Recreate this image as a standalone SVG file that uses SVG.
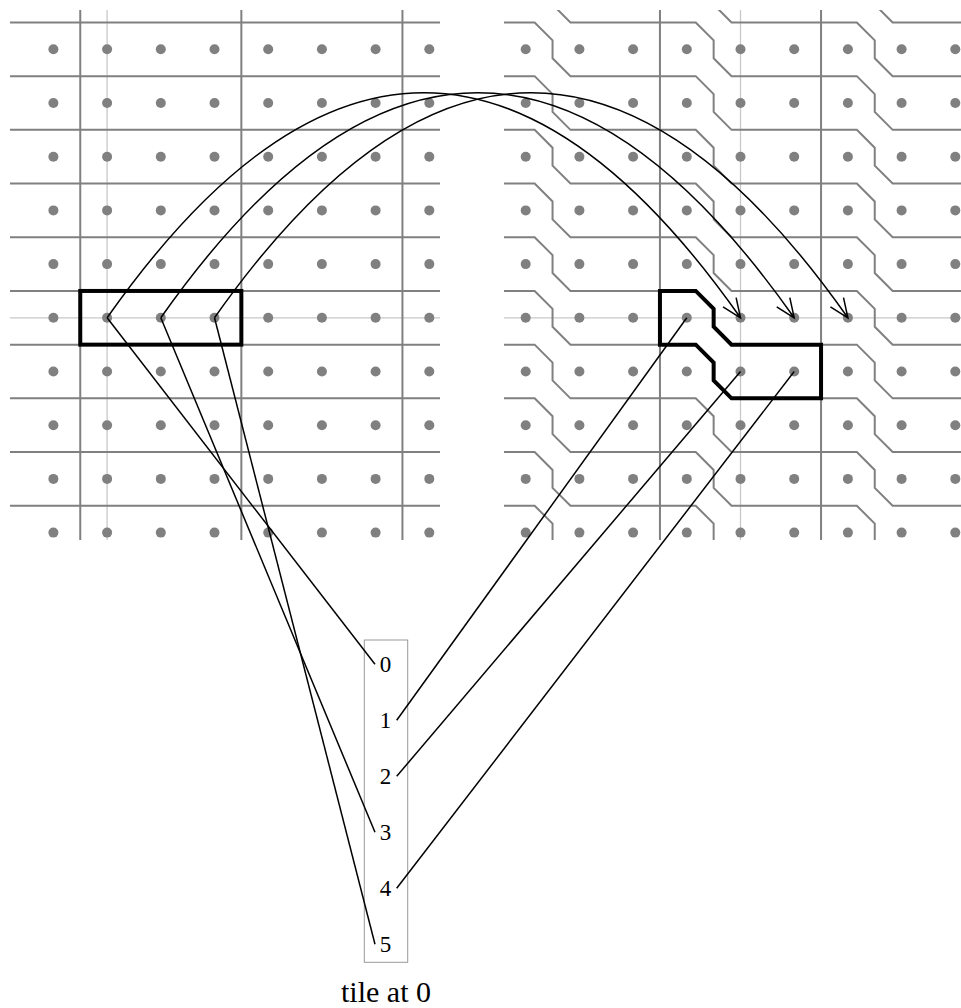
<svg xmlns="http://www.w3.org/2000/svg" xmlns:xlink="http://www.w3.org/1999/xlink" width="961" height="1008" viewBox="0 0 961 1008">
<style>
.grid{stroke:#808080;stroke-width:2;fill:none}
.light{stroke:#c8c8c8;stroke-width:1.3;fill:none}
.dot{fill:#808080}
.hl{stroke:#000;stroke-width:4;fill:none;stroke-linejoin:miter}
.con{stroke:#000;stroke-width:1.5;fill:none}
.lbl{font-family:"Liberation Serif","Times New Roman",serif;font-size:23px;fill:#000;text-anchor:middle}
.cap{font-family:"Liberation Serif","Times New Roman",serif;font-size:30px;fill:#000;text-anchor:middle}
</style>
<defs>
<clipPath id="clipL"><rect x="10" y="10" width="430" height="530"/></clipPath>
<clipPath id="clipR"><rect x="504" y="10" width="457" height="530"/></clipPath>
<marker id="ah" markerUnits="userSpaceOnUse" orient="auto" refX="0" refY="0" markerWidth="40" markerHeight="40" overflow="visible">
<path d="M-19,-8 L0,0 L-19,8" fill="none" stroke="#000" stroke-width="1.5"/>
</marker>
<g id="rowL">
<circle class="dot" cx="53.4" cy="0" r="5"/><circle class="dot" cx="107.1" cy="0" r="5"/><circle class="dot" cx="160.8" cy="0" r="5"/><circle class="dot" cx="214.5" cy="0" r="5"/><circle class="dot" cx="268.2" cy="0" r="5"/><circle class="dot" cx="321.9" cy="0" r="5"/><circle class="dot" cx="375.6" cy="0" r="5"/><circle class="dot" cx="429.3" cy="0" r="5"/>
</g>
<g id="rowR">
<circle class="dot" cx="525.7" cy="0" r="5"/><circle class="dot" cx="579.4" cy="0" r="5"/><circle class="dot" cx="633.1" cy="0" r="5"/><circle class="dot" cx="686.8" cy="0" r="5"/><circle class="dot" cx="740.5" cy="0" r="5"/><circle class="dot" cx="794.2" cy="0" r="5"/><circle class="dot" cx="847.9" cy="0" r="5"/><circle class="dot" cx="901.6" cy="0" r="5"/><circle class="dot" cx="955.3" cy="0" r="5"/>
</g>
<path id="stair" class="grid" d="M480,0 H534.65 L552.55,17.9 V35.8 L570.45,53.7 H695.75 L713.65,71.6 V89.5 L731.55,107.4 H856.85 L874.75,125.3 V143.2 L892.65,161.1 H975"/>
</defs>

<g id="left-grid">
<g clip-path="url(#clipL)">
<line class="light" x1="107.1" y1="10" x2="107.1" y2="540"/>
<line class="light" x1="10" y1="317.8" x2="440" y2="317.8"/>
<path class="grid" d="M10,22.45H440M10,76.15H440M10,129.85H440M10,183.55H440M10,237.25H440M10,290.95H440M10,344.65H440M10,398.35H440M10,452.05H440M10,505.75H440"/>
<path class="grid" d="M80.25,10V540M241.35,10V540M402.45,10V540"/>
</g>
<use href="#rowL" xlink:href="#rowL" y="49.3"/>
<use href="#rowL" xlink:href="#rowL" y="103"/>
<use href="#rowL" xlink:href="#rowL" y="156.7"/>
<use href="#rowL" xlink:href="#rowL" y="210.4"/>
<use href="#rowL" xlink:href="#rowL" y="264.1"/>
<use href="#rowL" xlink:href="#rowL" y="317.8"/>
<use href="#rowL" xlink:href="#rowL" y="371.5"/>
<use href="#rowL" xlink:href="#rowL" y="425.2"/>
<use href="#rowL" xlink:href="#rowL" y="478.9"/>
<use href="#rowL" xlink:href="#rowL" y="532.6"/>
<rect class="hl" x="80.25" y="290.95" width="161.1" height="53.7"/>
</g>

<g id="right-grid">
<g clip-path="url(#clipR)">
<line class="light" x1="740.5" y1="10" x2="740.5" y2="540"/>
<line class="light" x1="504" y1="317.8" x2="961" y2="317.8"/>
<use href="#stair" xlink:href="#stair" y="-138.65"/>
<use href="#stair" xlink:href="#stair" y="-84.95"/>
<use href="#stair" xlink:href="#stair" y="-31.25"/>
<use href="#stair" xlink:href="#stair" y="22.45"/>
<use href="#stair" xlink:href="#stair" y="76.15"/>
<use href="#stair" xlink:href="#stair" y="129.85"/>
<use href="#stair" xlink:href="#stair" y="183.55"/>
<use href="#stair" xlink:href="#stair" y="237.25"/>
<use href="#stair" xlink:href="#stair" y="290.95"/>
<use href="#stair" xlink:href="#stair" y="344.65"/>
<use href="#stair" xlink:href="#stair" y="398.35"/>
<use href="#stair" xlink:href="#stair" y="452.05"/>
<use href="#stair" xlink:href="#stair" y="505.75"/>
<path class="grid" d="M659.95,10V540M821.05,10V540"/>
</g>
<use href="#rowR" xlink:href="#rowR" y="49.3"/>
<use href="#rowR" xlink:href="#rowR" y="103"/>
<use href="#rowR" xlink:href="#rowR" y="156.7"/>
<use href="#rowR" xlink:href="#rowR" y="210.4"/>
<use href="#rowR" xlink:href="#rowR" y="264.1"/>
<use href="#rowR" xlink:href="#rowR" y="317.8"/>
<use href="#rowR" xlink:href="#rowR" y="371.5"/>
<use href="#rowR" xlink:href="#rowR" y="425.2"/>
<use href="#rowR" xlink:href="#rowR" y="478.9"/>
<use href="#rowR" xlink:href="#rowR" y="532.6"/>
<path class="hl" d="M659.95,290.95 H695.75 L713.65,308.85 V326.75 L731.55,344.65 H821.05 V398.35 H731.55 L713.65,380.45 V362.55 L695.75,344.65 H659.95 Z"/>
</g>

<g id="tile">
<rect x="364.3" y="640" width="43.4" height="322.3" fill="none" stroke="#999" stroke-width="1"/>
<text class="lbl" x="385.5" y="672">0</text>
<text class="lbl" x="385.5" y="728">1</text>
<text class="lbl" x="385.5" y="784">2</text>
<text class="lbl" x="385.5" y="840">3</text>
<text class="lbl" x="385.5" y="896">4</text>
<text class="lbl" x="385.5" y="952">5</text>
</g>

<g id="caption">
<text class="cap" x="386" y="1002">tile at 0</text>
</g>

<g id="connectors">
<path class="con" marker-end="url(#ah)" d="M107.1,317.8 Q423.8,-132.4 740.5,317.8"/>
<path class="con" marker-end="url(#ah)" d="M160.8,317.8 Q477.5,-132.4 794.2,317.8"/>
<path class="con" marker-end="url(#ah)" d="M214.5,317.8 Q531.2,-132.4 847.9,317.8"/>
<line class="con" x1="107.1" y1="317.8" x2="375" y2="664.3"/>
<line class="con" x1="160.8" y1="317.8" x2="375" y2="832.3"/>
<line class="con" x1="214.5" y1="317.8" x2="375" y2="944.3"/>
<line class="con" x1="396.7" y1="720.3" x2="686.8" y2="317.8"/>
<line class="con" x1="396.7" y1="776.3" x2="740.5" y2="371.5"/>
<line class="con" x1="396.7" y1="888.3" x2="794.2" y2="371.5"/>
</g>
</svg>
